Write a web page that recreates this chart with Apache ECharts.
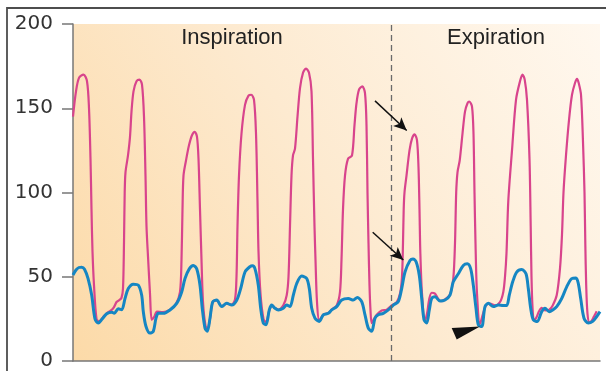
<!DOCTYPE html>
<html>
<head>
<meta charset="utf-8">
<script src="https://cdn.jsdelivr.net/npm/echarts@6/dist/echarts.min.js"></script>
<style>
html,body{margin:0;padding:0;background:#fff;}
#c{width:606px;height:371px;}
</style>
</head>
<body>
<div id="c"></div>
<script>
// time (sample units) and pressure (mmHg)
const pinkT = [73,76,79,83.5,87,89,90.5,91.5,92.5,94,96.5,99,103,107,111,114,116.5,119,121.5,123,124,124.7,125.5,128,130,131.5,133.5,136.5,139.5,142,144,145.5,146.5,148,150,151.7,154,157,163,170,176,180,181.5,182.5,183.5,186,189,192,194.8,197,198.5,200,201.5,203,205.5,207.5,210,212.7,216.7,221.7,226.7,231.7,235,236.5,237.5,239,241.5,245,248.5,251.2,254,256,257.5,258.5,260.5,263.5,266,269.3,272,275,278.3,283.3,286.7,288.5,290,291.5,293,295,297.5,300,303,306,309,311.5,313,314.5,315.5,317,319.3,323.3,328.3,331.7,336.7,340,341.5,343,345,348,352,354.5,356.5,359,362.3,365,366.5,367.5,368.5,369.5,370.5,371.7,374,376.7,381.7,386.7,391.7,396.7,400,402,403,403.7,404.5,406.5,409.5,412,414.6,417,418.5,419.5,420.3,422,425,427,429.3,431.7,435,438,441,445,450,453.3,455,456.2,457.5,459.7,462.5,465,467.5,469.3,472,473.5,474.5,475.5,477,480,483,486,490,495,500,503.3,505,506.5,508.3,512,516,520,522.5,524.7,527,529.5,530.7,531.5,532.5,534,536.5,539,541.7,545,549.3,552.7,556.7,560,562,563.5,566,569,572,575,577,578.7,581,583,584.5,585.3,586.2,587.5,589.5,591.7,594,596.7,600];
const pinkV = [145,160,168,170,166,150,120,90,65,45,25,23.5,26,28.5,30,32,35,36,37.5,43,70,100,112,122,133,148,160,166,167,164,145,110,80,62,40,24.5,26,29.3,29,30.5,34,41,60,90,110,119,128,134,136,133,120,90,60,35,21,19,25,35,36,32.5,34,33.5,36.5,50,80,110,135,152,157.5,158,155,135,95,65,40,25,23,30,33,31.5,30.5,33,39,50,80,110,122,126,145,162,171,173.5,171,160,120,80,60,35,24,27.5,28.5,30.5,33,41,60,90,110,120,122,140,153,161,163,159,140,100,70,45,30,22.5,25,27.5,30,30.5,33,35,40,50,70,90,100,110,125,132,134.5,131,115,90,65,40,24,28,37,40.5,40,37,35.5,36.5,39.5,49,70,100,112,119,135,148,153,154,151,135,100,70,40,22,28,33,34,33,35,41,50,64,95,125,155,166,170,167,155,120,80,50,32,24,26,29.5,31.5,30,30.5,33,39,55,75,100,122,143,158,165,167.5,165,158,130,100,70,45,28,23,24,26.5,29.5];
const blueT = [73,76,79,81.7,84.5,88,91.7,95,98.3,101.7,106.7,111.7,114.3,118.3,121.7,125,128.3,133.3,138.3,141.7,143.3,146,150,153.3,156,158.3,163.3,170,176.7,181.7,185,189.3,193.3,196.7,200,202.3,205,207.3,210,212.7,216.7,221.7,226.7,231.7,236.7,240.7,245,250,252.5,255,258.3,260.7,263.3,266,269.3,271.7,275,278.3,283.3,286.7,290,293.3,296.7,301.7,306.7,309.3,311.7,315,319.3,323.3,328.3,331.7,336.7,341.7,348.3,353.3,357.3,361.7,365,368.3,371.7,375,378.3,383.3,388.3,393.3,398.3,401.7,405,410,413,416,419.3,421.7,424,426.7,429.3,431.7,435,440,445,450,453.3,458.3,463.3,467.3,470.7,473.3,476,478.3,481.7,485,488.3,493.3,498.3,503,506.7,509.3,512.7,516.7,521.7,526,528.3,530.7,533.3,537.3,541.7,545,549.3,552.7,556.7,561.7,566.7,571.7,576,578.3,580.7,584,588.3,592.7,596.7,600];
const blueV = [51,54,55.5,55.7,54.5,49,39,25,22.5,24.6,28,29,28.3,31,30.4,37,43,45.6,45,39,29.3,20.5,16.6,17.6,25.4,28.3,28.3,30.3,34.2,41,49,54.7,56.7,54.7,45,31,19.5,17.6,25.4,35,36.2,32.3,34.2,33.2,36,43,52.8,56,56.5,54.7,45,31.3,22.5,21.5,30.3,33.2,31.3,30.3,31.3,33.2,32.3,39,46,50.4,49,43,31.3,25.4,23.5,27.4,28.3,30.3,32.3,36.2,37.1,36.2,37.7,35.2,27.4,19.5,17.6,25.4,27.4,28.3,30.3,33.2,35.2,43,52.8,59.6,60.6,59,50.8,37.1,24.5,22.5,30.3,37.1,38.1,35.6,36.2,39.1,47,51.8,56.7,57.7,54.7,45,31.3,21.5,20.5,32.3,34.2,32.3,33.2,33,33,39.1,47,52.8,54.3,51.8,43,31.3,24.5,23.5,29.3,31.3,29.3,30.3,32.3,37.1,44,48.9,49.3,46,37.1,25.4,22.5,23.5,26.4,29.3];
const yTicks = [0, 50, 100, 150, 200];
const phaseLabels = ['Inspiration', 'Expiration'];
const phaseLabelT = [232, 496];
const phaseDivideT = 391;
// annotation arrows [fromT, fromV, toT, toV]
const arrows = [[375, 154.4, 406.7, 136.8], [372.7, 76.4, 403.3, 59.9]];
// black arrowhead triangle vertices [t, v]
const wedge = [[451.7, 19.6], [456.7, 12.8], [480, 20.5]];

const chart = echarts.init(document.getElementById('c'), null, {renderer: 'canvas'});
const pink = pinkT.map((t, i) => [t, pinkV[i]]);
const blue = blueT.map((t, i) => [t, blueV[i]]);

chart.setOption({
  animation: false,
  grid: {
    left: 73, right: 6, top: 24, bottom: 6,
    show: true, borderWidth: 0,
    backgroundColor: new echarts.graphic.LinearGradient(0, 1, 1, 0, [
      {offset: 0, color: '#fcdaa8'},
      {offset: 0.5, color: '#fdead0'},
      {offset: 1, color: '#fff8ef'}
    ])
  },
  xAxis: {
    type: 'value', min: 73, max: 600,
    axisLine: {show: true, onZero: false, lineStyle: {color: '#777', width: 1.5}},
    axisTick: {show: false}, axisLabel: {show: false}, splitLine: {show: false}
  },
  yAxis: {
    type: 'value', min: 0, max: 200, interval: 50,
    axisLine: {show: true, lineStyle: {color: '#777', width: 1.5}},
    axisTick: {show: true, length: 11, lineStyle: {color: '#777', width: 1.5}},
    axisLabel: {margin: 20, fontFamily: 'DejaVu Sans', fontSize: 20, color: '#333',
      formatter: v => yTicks.includes(v) ? String(v) : ''},
    splitLine: {show: false}
  },
  series: [
    {
      type: 'line', data: pink, smooth: 0.3, symbol: 'none',
      lineStyle: {color: '#d8448c', width: 2.2}, z: 3,
      markLine: {
        silent: true, symbol: ['none', 'none'], label: {show: false},
        lineStyle: {type: [6, 4], color: '#6a6a6a', width: 1.3},
        data: [{xAxis: phaseDivideT}]
      }
    },
    {
      type: 'line', data: blue, smooth: 0.3, symbol: 'none',
      lineStyle: {color: '#1586c3', width: 3}, z: 4,
      markLine: {
        silent: true, symbol: ['none', 'arrow'], symbolSize: [9, 13], label: {show: false},
        lineStyle: {type: 'solid', color: '#111', width: 1.5},
        data: arrows.map(a => [{coord: [a[0], a[1]]}, {coord: [a[2], a[3]]}])
      }
    }
  ]
});

const toPx = p => chart.convertToPixel({gridIndex: 0}, p);
const graphics = [
  {type: 'rect', shape: {x: 7, y: 8, width: 700, height: 500}, style: {fill: 'none', stroke: '#4d4d4d', lineWidth: 1.8}, z: 10}
];
phaseLabels.forEach((s, i) => {
  const p = toPx([phaseLabelT[i], 0]);
  graphics.push({type: 'text', x: p[0], y: 38, style: {text: s, font: '22px "Liberation Sans"', fill: '#222', align: 'center', verticalAlign: 'middle'}, z: 10});
});
graphics.push({type: 'polygon', shape: {points: wedge.map(toPx)}, style: {fill: '#111'}, z: 10});
chart.setOption({graphic: graphics});
</script>
</body>
</html>
